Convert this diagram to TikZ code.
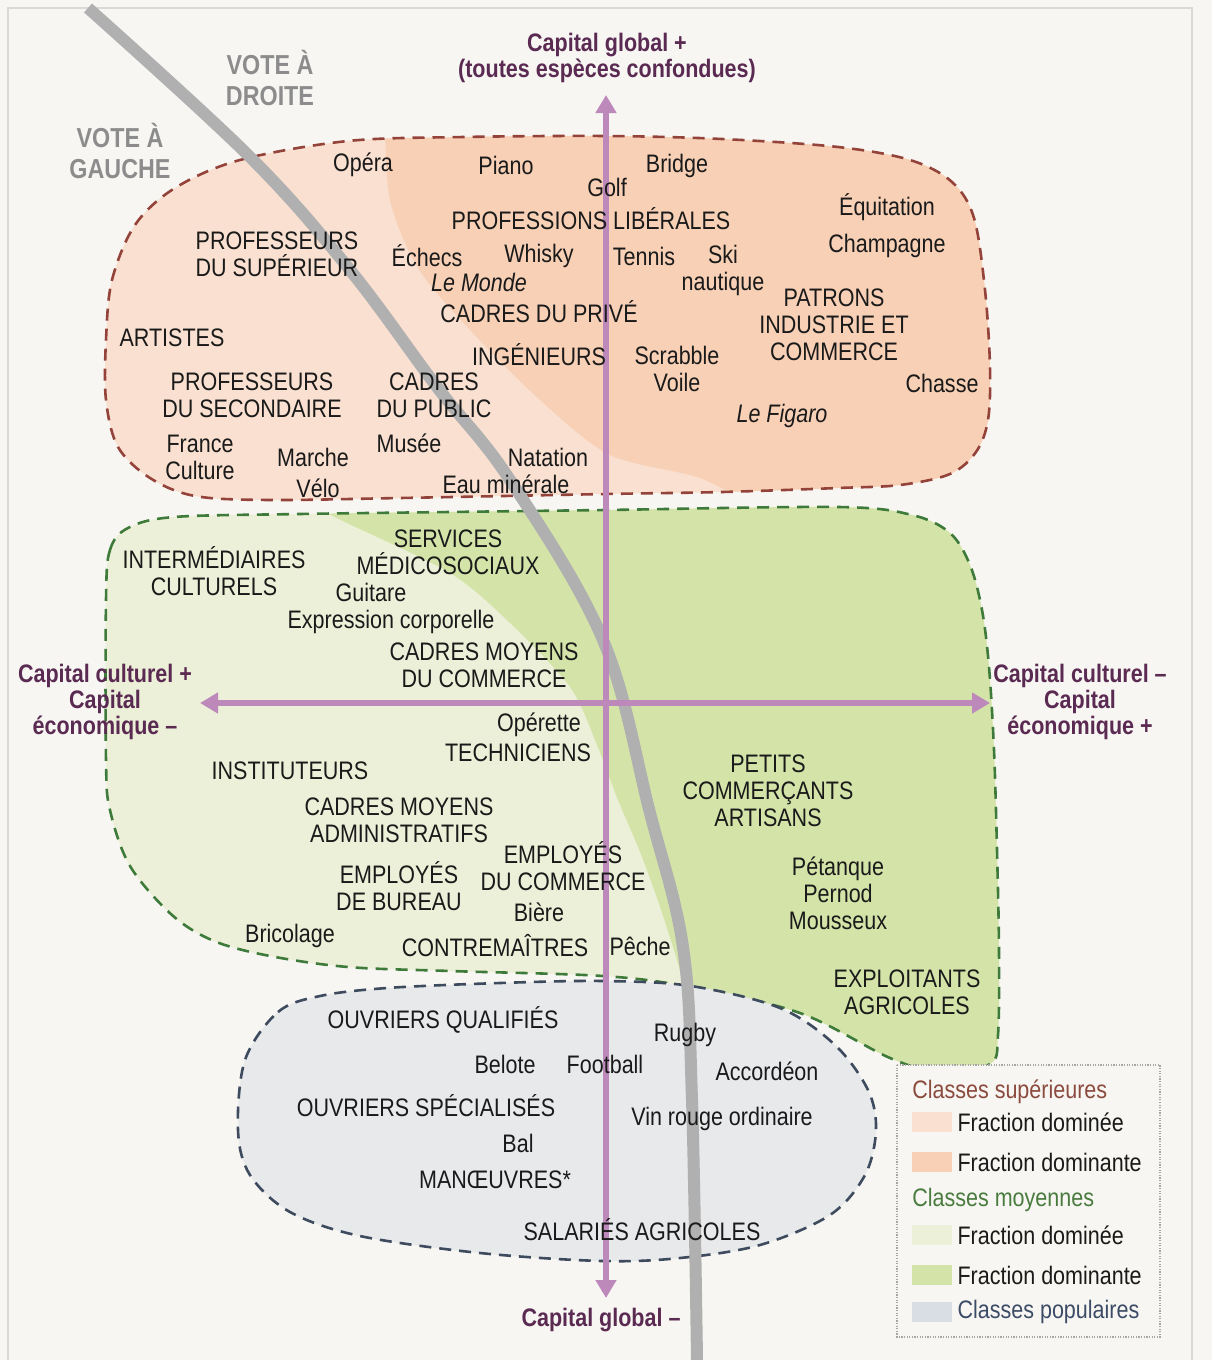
\documentclass[tikz,border=0pt]{standalone}
\usepackage{fontspec}
\setmainfont{Liberation Sans}[FakeStretch=0.85]
\usetikzlibrary{arrows.meta, positioning}
\definecolor{bgpaper}{HTML}{F7F6F2}
\definecolor{supdom}{HTML}{F9E0D0}
\definecolor{supdnt}{HTML}{F7D0B6}
\definecolor{moydom}{HTML}{EDF0D8}
\definecolor{moydnt}{HTML}{D4E4A9}
\definecolor{popfill}{HTML}{E7E9EB}
\definecolor{popsw}{HTML}{D9DEE4}
\definecolor{supline}{HTML}{94433A}
\definecolor{moyline}{HTML}{3E7A3A}
\definecolor{popline}{HTML}{3E4B5F}
\definecolor{suptxt}{HTML}{8B4B3F}
\definecolor{moytxt}{HTML}{4A7B3F}
\definecolor{poptxt}{HTML}{3D4C66}
\definecolor{axcol}{HTML}{BD88BA}
\definecolor{axtxt}{HTML}{5A2A52}
\definecolor{votecol}{HTML}{B0B0B0}
\definecolor{votetxt}{HTML}{8C8C8C}
\definecolor{ink}{HTML}{1A1A1A}

\begin{document}
\begin{tikzpicture}[
        x = 0.025cm, y = -0.025cm,
        txt/.style     = {inner sep=0pt, align=center, text=ink, font=\fontsize{18}{19.2}\selectfont},
        it/.style      = {txt, font=\fontsize{18}{19.2}\selectfont\itshape},
        axlab/.style   = {inner sep=0pt, align=center, text=axtxt, font=\fontsize{18}{18.6}\selectfont\bfseries},
        votelab/.style = {inner sep=0pt, align=center, text=votetxt, font=\fontsize{19.5}{22.7}\selectfont\bfseries},
        blob/.style    = {line width=0.65mm, dash pattern=on 3mm off 2mm},
        axe/.style     = {line width=1.7mm, draw=axcol, >={Triangle[length=4.5mm,width=5mm]}, <->},
        vote/.style    = {line width=3mm, draw=votecol},
        pageframe/.style = {draw=gray!30, line width=0.4mm},
        swatch/.style  = {inner sep=0pt, minimum width=10mm, minimum height=5mm},
        leg/.style     = {txt, anchor=west}
    ]

    \useasboundingbox (0,0) rectangle (1212,1360);
    \fill[bgpaper] (0,0) rectangle (1212,1360);
    \draw[pageframe] (8,1360) |- (1192,8) -- (1192,1360);

    % classes superieures
    \fill[supdom] plot[smooth cycle, tension=0.55] coordinates {(106,340) (112,280) (135,225) (175,188) (240,160) (348,141) (464,137) (606,136) (722,139) (838,147) (910,160) (952,182) (974,218) (985,290) (990,367) (988,420) (976,452) (950,474) (900,485) (838,488) (722,492) (606,494) (400,498) (270,500) (195,496) (150,478) (118,447) (106,400)};
    \begin{scope}
        \clip plot[smooth cycle, tension=0.55] coordinates {(106,340) (112,280) (135,225) (175,188) (240,160) (348,141) (464,137) (606,136) (722,139) (838,147) (910,160) (952,182) (974,218) (985,290) (990,367) (988,420) (976,452) (950,474) (900,485) (838,488) (722,492) (606,494) (400,498) (270,500) (195,496) (150,478) (118,447) (106,400)};
        \fill[supdnt] plot[smooth, tension=0.5] coordinates {(385,120) (390,200) (418,268) (470,330) (540,400) (610,455) (700,478) (760,510)} -- (1020,510) -- (1020,120) -- cycle;
    \end{scope}
    \draw[blob, supline] plot[smooth cycle, tension=0.55] coordinates {(106,340) (112,280) (135,225) (175,188) (240,160) (348,141) (464,137) (606,136) (722,139) (838,147) (910,160) (952,182) (974,218) (985,290) (990,367) (988,420) (976,452) (950,474) (900,485) (838,488) (722,492) (606,494) (400,498) (270,500) (195,496) (150,478) (118,447) (106,400)};

    % classes moyennes
    \fill[moydom] plot[smooth cycle, tension=0.55] coordinates {(106,600) (110,550) (128,528) (174,517) (300,514) (450,512) (606,510) (838,507) (912,515) (950,533) (970,565) (982,610) (989,667) (994,750) (997,850) (999,950) (998,1035) (990,1064) (940,1072) (890,1058) (800,1013) (690,987) (603,976) (450,971) (348,967) (270,956) (214,941) (172,915) (130,866) (110,810) (106,760)};
    \begin{scope}
        \clip plot[smooth cycle, tension=0.55] coordinates {(106,600) (110,550) (128,528) (174,517) (300,514) (450,512) (606,510) (838,507) (912,515) (950,533) (970,565) (982,610) (989,667) (994,750) (997,850) (999,950) (998,1035) (990,1064) (940,1072) (890,1058) (800,1013) (690,987) (603,976) (450,971) (348,967) (270,956) (214,941) (172,915) (130,866) (110,810) (106,760)};
        \fill[moydnt] plot[smooth, tension=0.5] coordinates {(300,500) (347,523) (450,573) (510,623) (570,687) (597,745) (618,800) (642,857) (666,925) (684,990) (690,1080)} -- (1020,1080) -- (1020,490) -- cycle;
    \end{scope}
    \draw[blob, moyline] plot[smooth cycle, tension=0.55] coordinates {(106,600) (110,550) (128,528) (174,517) (300,514) (450,512) (606,510) (838,507) (912,515) (950,533) (970,565) (982,610) (989,667) (994,750) (997,850) (999,950) (998,1035) (990,1064) (940,1072) (890,1058) (800,1013) (690,987) (603,976) (450,971) (348,967) (270,956) (214,941) (172,915) (130,866) (110,810) (106,760)};

    % classes populaires
    \draw[blob, popline, fill=popfill] plot[smooth cycle, tension=0.55] coordinates {(245,1060) (278,1012) (320,996) (387,988) (500,983) (603,981) (691,986) (780,1008) (835,1045) (868,1090) (876,1130) (865,1175) (830,1215) (760,1245) (680,1258) (602,1261) (480,1253) (360,1236) (290,1212) (250,1175) (238,1130)};

    % vote gauche / droite
    \draw[vote] plot[smooth, tension=0.6] coordinates {(88,8) (250,157) (350,270) (437,387) (510,480) (603,640) (650,813) (683,947) (692,1100) (697,1360)};

    % axes
    \coordinate (ntop) at (606,95);
    \coordinate (nbot) at (606,1298);
    \coordinate (wleft) at (200,703);
    \coordinate (eright) at (990,703);
    \draw[axe] (ntop) -- (nbot);
    \draw[axe] (wleft) -- (eright);

    \node[axlab] (gplus)  at (607,58)   {Capital global +\\(toutes espèces confondues)};
    \node[axlab] (gmoins) at (601,1320) {Capital global –};
    \node[axlab] (cplus)  at (105,702)  {Capital culturel +\\Capital\\économique –};
    \node[axlab] (cmoins) at (1080,702) {Capital culturel –\\Capital\\économique +};

    \node[votelab] (droite) at (270,78)  {VOTE À\\DROITE};
    \node[votelab] (gauche) at (120,151) {VOTE À\\GAUCHE};

    % classes superieures
    \node[txt] (opera)    at (363,165) {Opéra};
    \node[txt] (piano)    at (506,165) {Piano};
    \node[txt] (bridge)   at (677,166) {Bridge};
    \node[txt] (golf)     at (607,187) {Golf};
    \node[txt] (proflib)  at (591,219) {PROFESSIONS LIBÉRALES};
    \node[txt] (equit)    at (887,207) {Équitation};
    \node[txt] (champ)    at (887,246) {Champagne};
    \node[txt] (profsup)  at (277,254) {PROFESSEURS\\DU SUPÉRIEUR};
    \node[txt] (echecs)   at (427,256) {Échecs};
    \node[txt] (whisky)   at (539,256) {Whisky};
    \node[it]  (monde)    at (479,282) {Le Monde};
    \node[txt] (tennis)   at (644,256) {Tennis};
    \node[txt] (ski)      at (723,270) {Ski\\nautique};
    \node[txt] (cadpriv)  at (539,312) {CADRES DU PRIVÉ};
    \node[txt] (patrons)  at (834,325) {PATRONS\\INDUSTRIE ET\\COMMERCE};
    \node[txt] (artistes) at (172,338) {ARTISTES};
    \node[txt] (ingen)    at (539,355) {INGÉNIEURS};
    \node[txt] (scrab)    at (677,369) {Scrabble\\Voile};
    \node[txt] (chasse)   at (942,383) {Chasse};
    \node[txt] (profsec)  at (252,395) {PROFESSEURS\\DU SECONDAIRE};
    \node[txt] (cadpub)   at (434,395) {CADRES\\DU PUBLIC};
    \node[it]  (figaro)   at (782,416) {Le Figaro};
    \node[txt] (fcult)    at (200,457) {France\\Culture};
    \node[txt] (marche)   at (313,457) {Marche};
    \node[txt] (musee)    at (409,443) {Musée};
    \node[txt] (natation) at (548,457) {Natation};
    \node[txt] (velo)     at (318,488) {Vélo};
    \node[txt] (eau)      at (506,484) {Eau minérale};

    % classes moyennes
    \node[txt] (services) at (448,552) {SERVICES\\MÉDICOSOCIAUX};
    \node[txt] (interm)   at (214,571) {INTERMÉDIAIRES\\CULTURELS};
    \node[txt] (guitare)  at (371,592) {Guitare};
    \node[txt] (expr)     at (391,622) {Expression corporelle};
    \node[txt] (cmcom)    at (484,665) {CADRES MOYENS\\DU COMMERCE};
    \node[txt] (operette) at (539,725) {Opérette};
    \node[txt] (techn)    at (518,753) {TECHNICIENS};
    \node[txt] (instit)   at (290,771) {INSTITUTEURS};
    \node[txt] (petits)   at (768,791) {PETITS\\COMMERÇANTS\\ARTISANS};
    \node[txt] (cmadm)    at (399,820) {CADRES MOYENS\\ADMINISTRATIFS};
    \node[txt] (empcom)   at (563,866) {EMPLOYÉS\\DU COMMERCE};
    \node[txt] (empbur)   at (399,886) {EMPLOYÉS\\DE BUREAU};
    \node[txt] (petanque) at (838,893) {Pétanque\\Pernod\\Mousseux};
    \node[txt] (biere)    at (539,912) {Bière};
    \node[txt] (bricol)   at (290,936) {Bricolage};
    \node[txt] (contrem)  at (495,946) {CONTREMAÎTRES};
    \node[txt] (peche)    at (640,946) {Pêche};
    \node[txt] (exploit)  at (907,992) {EXPLOITANTS\\AGRICOLES};

    % classes populaires
    \node[txt] (oq)       at (443,1020) {OUVRIERS QUALIFIÉS};
    \node[txt] (rugby)    at (685,1035) {Rugby};
    \node[txt] (belote)   at (505,1064) {Belote};
    \node[txt] (foot)     at (605,1064) {Football};
    \node[txt] (accord)   at (767,1071) {Accordéon};
    \node[txt] (os)       at (426,1106) {OUVRIERS SPÉCIALISÉS};
    \node[txt] (vin)      at (722,1119) {Vin rouge ordinaire};
    \node[txt] (bal)      at (518,1143) {Bal};
    \node[txt] (manoe)    at (495,1180) {MANŒUVRES*};
    \node[txt] (salag)    at (642,1230) {SALARIÉS AGRICOLES};

    % legende
    \draw[draw=gray!70, line width=0.3mm, densely dotted, fill=bgpaper] (897,1065) rectangle (1160,1337);
    \node[leg, text=suptxt] (lsup) at (912,1092) {Classes supérieures};
    \node[swatch, fill=supdom] (sw1) at (932,1122) {};
    \node[leg, right=1.25mm of sw1] (l1) {Fraction dominée};
    \node[swatch, fill=supdnt] (sw2) at (932,1162) {};
    \node[leg, right=1.25mm of sw2] (l2) {Fraction dominante};
    \node[leg, text=moytxt] (lmoy) at (912,1200) {Classes moyennes};
    \node[swatch, fill=moydom] (sw3) at (932,1235) {};
    \node[leg, right=1.25mm of sw3] (l3) {Fraction dominée};
    \node[swatch, fill=moydnt] (sw4) at (932,1275) {};
    \node[leg, right=1.25mm of sw4] (l4) {Fraction dominante};
    \node[swatch, fill=popsw] (sw5) at (932,1312) {};
    \node[leg, right=1.25mm of sw5, text=poptxt] (lpop) {Classes populaires};

\end{tikzpicture}
\end{document}
